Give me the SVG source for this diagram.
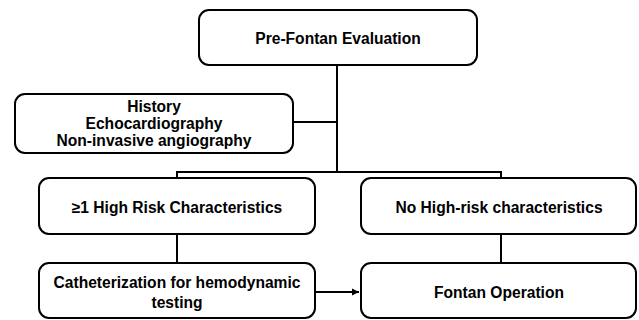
<svg xmlns="http://www.w3.org/2000/svg" width="639" height="320" viewBox="0 0 639 320">
<defs>
<style>
.box{fill:#fff;stroke:#000;stroke-width:2}
.t{font-family:"Liberation Sans",Arial,sans-serif;font-weight:bold;font-size:15.6px;text-anchor:middle;dominant-baseline:central;fill:#000}
.c{fill:none;stroke:#000;stroke-width:2}
</style>
<marker id="ah" markerWidth="8" markerHeight="8" refX="7" refY="4" orient="auto" markerUnits="userSpaceOnUse">
<path d="M0,0.5 L7,4 L0,7.5 Z" fill="#000"/>
</marker>
</defs>
<rect width="639" height="320" fill="#fff"/>
<g id="connectors">
<line class="c" x1="337" y1="65" x2="337" y2="172"/>
<line class="c" x1="293" y1="122" x2="337" y2="122"/>
<polyline class="c" points="177,178 177,172 501,172 501,178"/>
<line class="c" x1="177" y1="234" x2="177" y2="263"/>
<line class="c" x1="501" y1="234" x2="501" y2="263"/>
<line class="c" x1="315" y1="292" x2="359" y2="292" marker-end="url(#ah)"/>
</g>
<g id="pre-fontan">
<rect class="box" x="199" y="10" width="278" height="55" rx="10"/>
<text class="t" x="338" y="38">Pre-Fontan Evaluation</text>
</g>
<g id="history">
<rect class="box" x="15" y="94" width="278" height="59" rx="10"/>
<text class="t" x="154" y="106">History</text>
<text class="t" x="154" y="123">Echocardiography</text>
<text class="t" x="154" y="140">Non-invasive angiography</text>
</g>
<g id="high-risk">
<rect class="box" x="39" y="178" width="276" height="56" rx="10"/>
<text class="t" x="177" y="207">≥1 High Risk Characteristics</text>
</g>
<g id="no-high-risk">
<rect class="box" x="361" y="178" width="275" height="56" rx="10"/>
<text class="t" x="499" y="207">No High-risk characteristics</text>
</g>
<g id="catheterization">
<rect class="box" x="39" y="263" width="276" height="55" rx="10"/>
<text class="t" x="177" y="282">Catheterization for hemodynamic</text>
<text class="t" x="177" y="302">testing</text>
</g>
<g id="fontan-operation">
<rect class="box" x="361" y="263" width="275" height="55" rx="10"/>
<text class="t" x="499" y="292">Fontan Operation</text>
</g>
</svg>
